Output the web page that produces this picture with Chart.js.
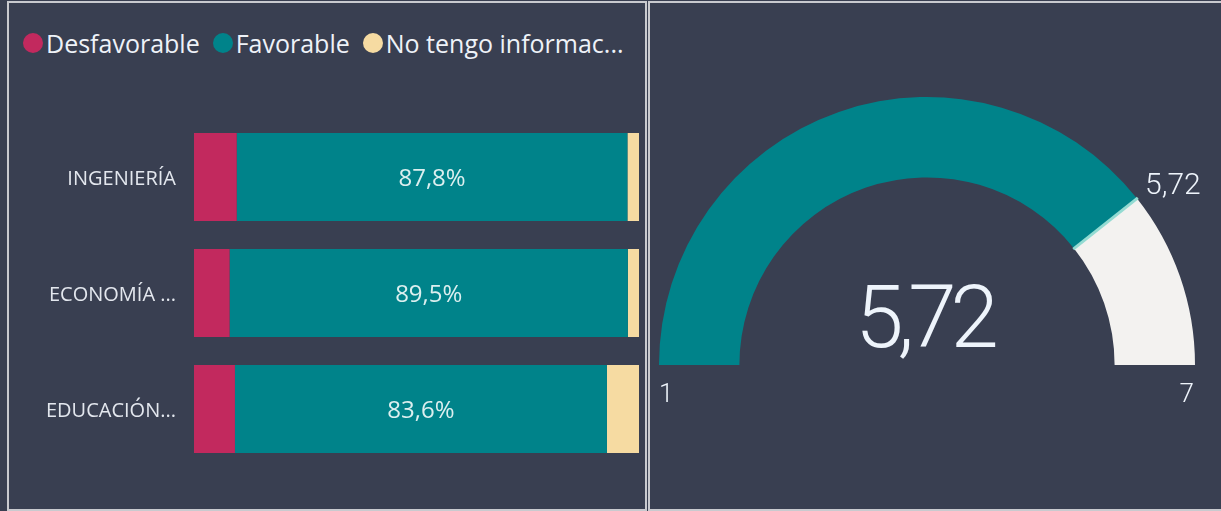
<!DOCTYPE html>
<html>
<head>
<meta charset="utf-8">
<script src="https://cdn.jsdelivr.net/npm/chart.js@4.4.1/dist/chart.umd.min.js"></script>
<style>
  html, body { margin: 0; padding: 0; }
  body { width: 1221px; height: 511px; background: #393f51; position: relative; overflow: hidden; font-family: "Open Sans", sans-serif; }
  .panel { position: absolute; box-sizing: border-box; border: 2px solid #c9cacf; pointer-events: none; z-index: 5; }
  #legend { position: absolute; left: 23px; top: 26px; display: flex; align-items: center; white-space: nowrap; }
  .item { display: flex; align-items: center; margin-right: 13px; color: #eef2f8; font-size: 25px; }
  .dot { width: 20px; height: 20px; border-radius: 50%; margin-right: 3px; }
  #barWrap { position: absolute; left: 10px; top: 100px; width: 634px; height: 380px; }
  #gaugeWrap { position: absolute; left: 650px; top: 0; width: 571px; height: 511px; }
</style>
</head>
<body>
<div class="panel" style="left:7px; top:1px; width:640px; height:510px;"></div>
<div class="panel" style="left:648px; top:1px; width:600px; height:510px;"></div>
<div id="legend"></div>
<div id="barWrap"><canvas id="barChart"></canvas></div>
<div id="gaugeWrap"><canvas id="gaugeChart"></canvas></div>
<script>
const categories = ["INGENIERÍA", "ECONOMÍA ...", "EDUCACIÓN..."];
const seriesNames = ["Desfavorable", "Favorable", "No tengo informac..."];
const desfavorable = [9.6, 8.0, 9.2];
const favorable = [87.8, 89.5, 83.6];
const noInfo = [2.6, 2.5, 7.2];
const seriesColors = ["#c2295e", "#00838a", "#f6dba2"];

const gaugeMin = 1;
const gaugeMax = 7;
const gaugeValue = 5.72;
const gaugeTarget = 5.72;

const fmt = (v, d) => v.toFixed(d).replace(".", ",");

// legend
const legend = document.getElementById("legend");
seriesNames.forEach((name, i) => {
  const item = document.createElement("div");
  item.className = "item";
  item.innerHTML = `<span class="dot" style="background:${seriesColors[i]}"></span><span>${name}</span>`;
  legend.appendChild(item);
});

// value labels inside the Favorable segment
const barLabels = {
  id: "barLabels",
  afterDatasetsDraw(chart) {
    const ctx = chart.ctx;
    const meta = chart.getDatasetMeta(1);
    ctx.save();
    ctx.font = "24px 'Open Sans'";
    ctx.fillStyle = "#dcefef";
    ctx.textAlign = "center";
    ctx.textBaseline = "middle";
    meta.data.forEach((bar, i) => {
      const cx = (bar.x + bar.base) / 2;
      ctx.fillText(fmt(favorable[i], 1) + "%", cx, bar.y + 2);
    });
    ctx.restore();
  }
};

new Chart(document.getElementById("barChart"), {
  type: "bar",
  data: {
    labels: categories,
    datasets: [
      { label: seriesNames[0], data: desfavorable, backgroundColor: seriesColors[0] },
      { label: seriesNames[1], data: favorable, backgroundColor: seriesColors[1] },
      { label: seriesNames[2], data: noInfo, backgroundColor: seriesColors[2] }
    ]
  },
  options: {
    indexAxis: "y",
    responsive: true,
    maintainAspectRatio: false,
    animation: false,
    datasets: { bar: { categoryPercentage: 1, barPercentage: 0.76 } },
    layout: { padding: { left: 0, right: 5, top: 19, bottom: 13 } },
    plugins: { legend: { display: false }, tooltip: { enabled: false } },
    scales: {
      x: { stacked: true, min: 0, max: 100, display: false },
      y: {
        stacked: true,
        grid: { display: false, drawTicks: false },
        border: { display: false },
        ticks: { color: "#e3e7ee", font: { family: "Open Sans", size: 20 }, padding: 18, labelOffset: 2 },
        afterFit: (s) => { s.width = 184; s.paddingTop = 0; s.paddingBottom = 0; }
      }
    }
  },
  plugins: [barLabels]
});

// gauge texts and target marker
const gaugeText = {
  id: "gaugeText",
  afterDatasetsDraw(chart) {
    const ctx = chart.ctx;
    const arc = chart.getDatasetMeta(0).data[0];
    const { x, y, innerRadius, outerRadius } = arc;
    const ang = Math.PI + Math.PI * (gaugeTarget - gaugeMin) / (gaugeMax - gaugeMin);
    ctx.save();
    ctx.strokeStyle = "#93dbd2";
    ctx.lineWidth = 3;
    ctx.beginPath();
    ctx.moveTo(x + Math.cos(ang) * (innerRadius - 1), y + Math.sin(ang) * (innerRadius - 1));
    ctx.lineTo(x + Math.cos(ang) * (outerRadius + 1), y + Math.sin(ang) * (outerRadius + 1));
    ctx.stroke();

    ctx.fillStyle = "#eef4fb";
    ctx.textBaseline = "alphabetic";
    ctx.font = "300 87px Roboto";
    ctx.textAlign = "center";
    if ("letterSpacing" in ctx) ctx.letterSpacing = "-6px";
    ctx.fillText(fmt(gaugeValue, 2), x - 3, y - 18);
    if ("letterSpacing" in ctx) ctx.letterSpacing = "0px";

    ctx.font = "300 30px Roboto";
    ctx.textAlign = "left";
    ctx.fillText(fmt(gaugeTarget, 2), x + Math.cos(ang) * outerRadius + 8, y + Math.sin(ang) * outerRadius - 5);

    ctx.font = "300 26px Roboto";
    ctx.textAlign = "left";
    ctx.fillText(String(gaugeMin), x - outerRadius, y + 37);
    ctx.textAlign = "right";
    ctx.fillText(String(gaugeMax), x + outerRadius - 1, y + 37);
    ctx.restore();
  }
};

new Chart(document.getElementById("gaugeChart"), {
  type: "doughnut",
  data: {
    labels: ["Valor", "Resto"],
    datasets: [{
      data: [gaugeValue - gaugeMin, gaugeMax - gaugeValue],
      backgroundColor: ["#00838a", "#f3f2f0"],
      borderWidth: 0
    }]
  },
  options: {
    responsive: true,
    maintainAspectRatio: false,
    animation: false,
    rotation: -90,
    circumference: 180,
    cutout: "70%",
    layout: { padding: { left: 9, right: 26, top: 97, bottom: 146 } },
    plugins: { legend: { display: false }, tooltip: { enabled: false } }
  },
  plugins: [gaugeText]
});
</script>
</body>
</html>
